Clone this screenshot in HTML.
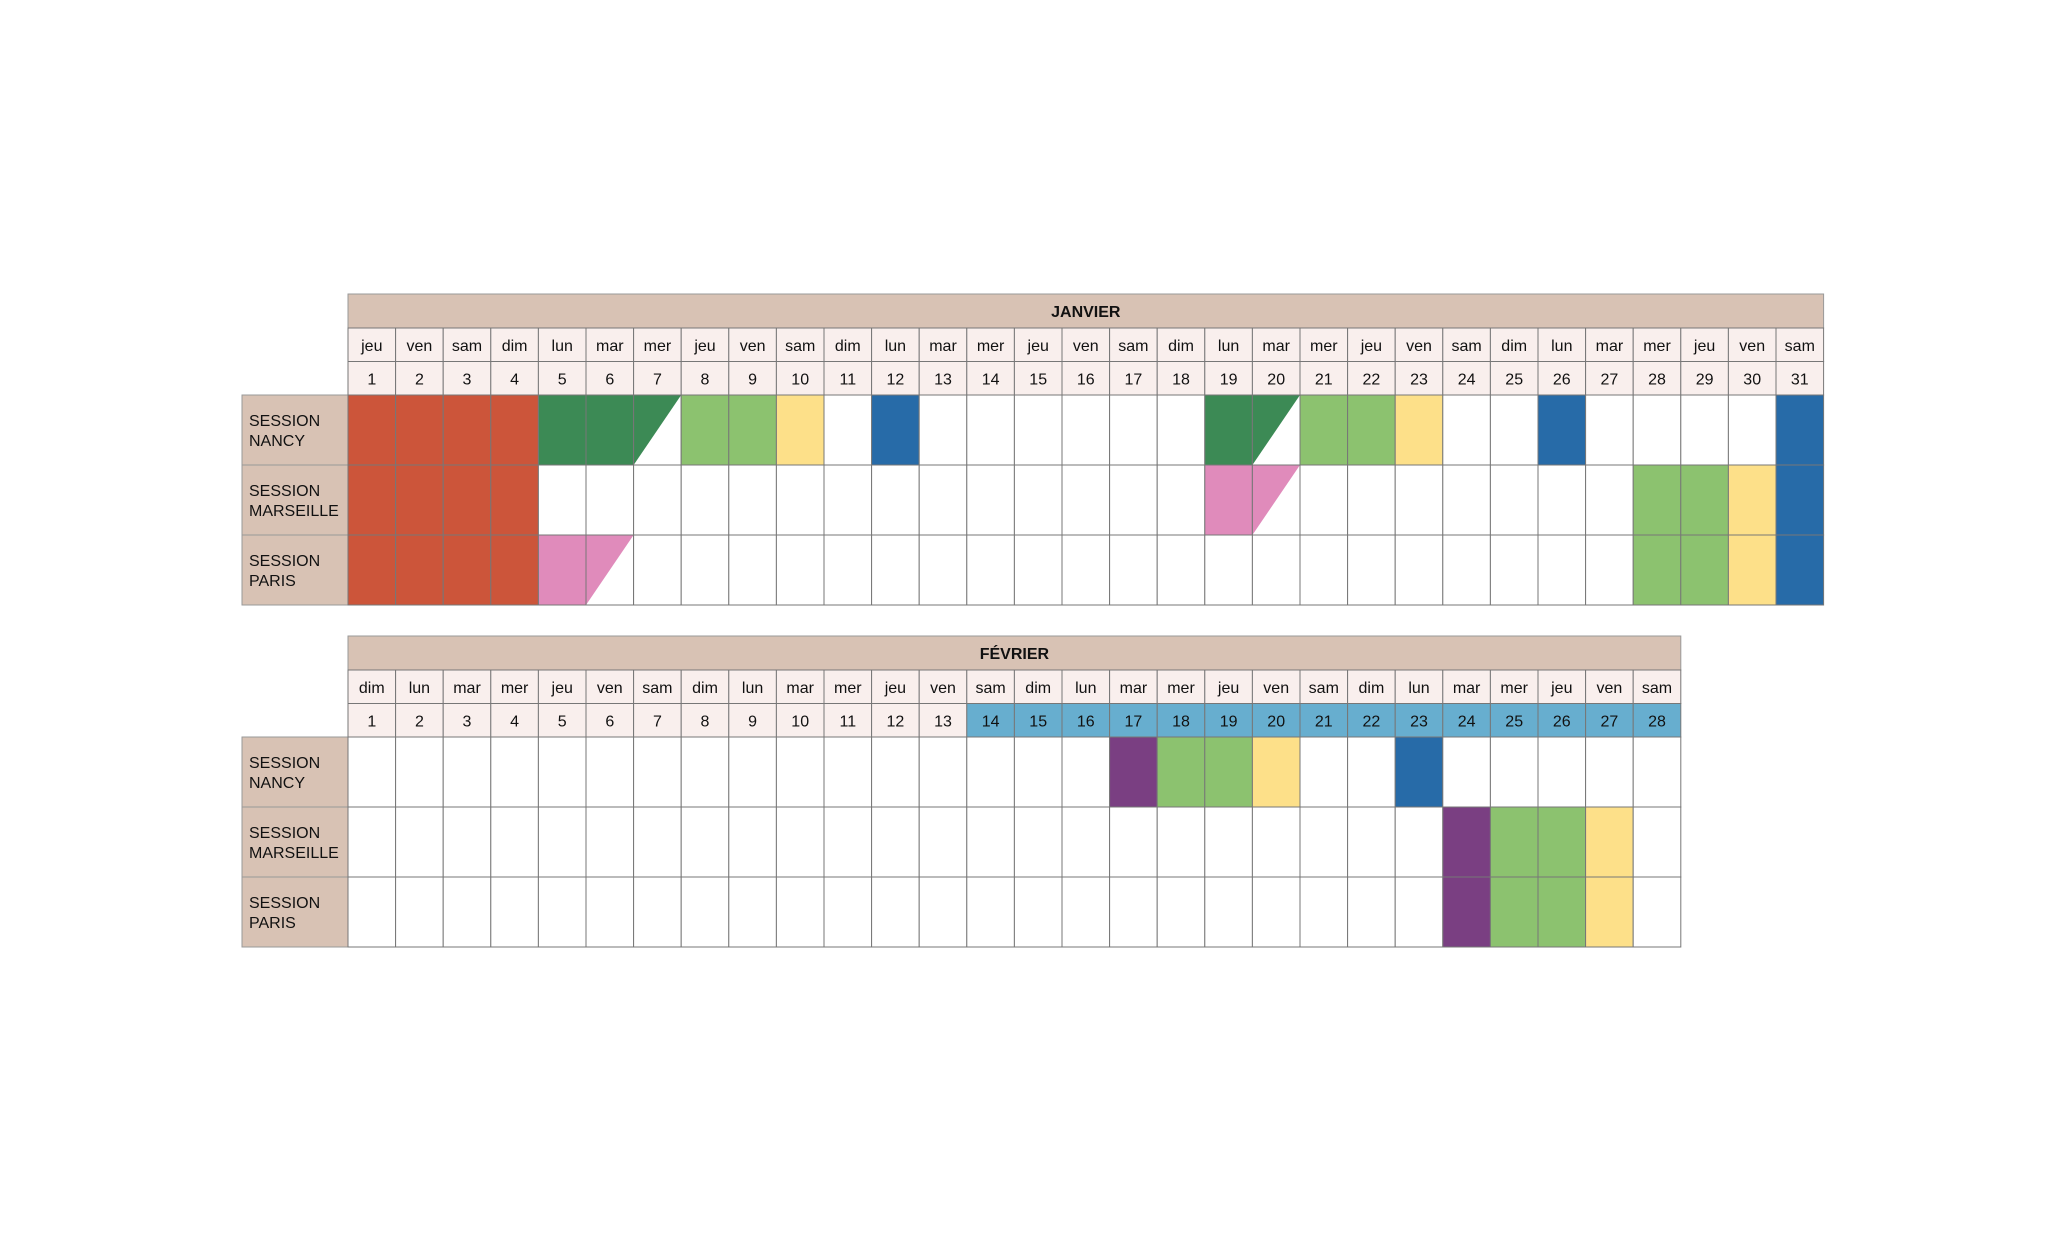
<!DOCTYPE html>
<html><head><meta charset="utf-8"><style>
html,body{margin:0;padding:0;background:#fff;width:2067px;height:1240px;overflow:hidden}
svg{display:block}
text{font-family:"Liberation Sans",sans-serif;fill:#111}
</style></head><body>
<svg id="s" width="2067" height="1240" viewBox="0 0 2067 1240" xmlns="http://www.w3.org/2000/svg"></svg>
<script>
var S=document.getElementById('s'),h='';
var X0=348,CW=47.6,LX=242;
var R='#cc553a',DG='#3c8a55',LG='#8cc26f',Y='#fde089',B='#276ba8',P='#e08bbb',V='#7a3f82';
function month(title,top,days,nd,fills,blueFrom){
  var W=nd*CW,yH=top,yD=top+34,yN=top+67.5,yS=top+101;
  h+='<rect x="'+X0+'" y="'+yH+'" width="'+W+'" height="34" fill="#d8c2b4" stroke="#999" stroke-width="1"/>';
  h+='<text x="'+(X0+W/2)+'" y="'+(yH+23)+'" font-size="16" font-weight="bold" text-anchor="middle">'+title+'</text>';
  for(var i=0;i<nd;i++){
    var x=X0+i*CW;
    h+='<rect x="'+x+'" y="'+yD+'" width="'+CW+'" height="33.5" fill="#f9efed" stroke="#777" stroke-width="1"/>';
    h+='<text x="'+(x+CW/2)+'" y="'+(yD+23)+'" font-size="16" text-anchor="middle">'+days[i%7]+'</text>';
    var bl=blueFrom&&i+1>=blueFrom;
    h+='<rect x="'+x+'" y="'+yN+'" width="'+CW+'" height="33.5" fill="'+(bl?'#67aecf':'#f9efed')+'" stroke="#777" stroke-width="1"/>';
    h+='<text x="'+(x+CW/2)+'" y="'+(yN+23)+'" font-size="16" text-anchor="middle">'+(i+1)+'</text>';
  }
  var labs=[['SESSION','NANCY'],['SESSION','MARSEILLE'],['SESSION','PARIS']];
  for(var r=0;r<3;r++){
    var y=yS+r*70;
    h+='<rect x="'+LX+'" y="'+y+'" width="'+(X0-LX)+'" height="70" fill="#d8c2b4" stroke="#999" stroke-width="1"/>';
    h+='<text x="'+(LX+7)+'" y="'+(y+31)+'" font-size="16">'+labs[r][0]+'</text>';
    h+='<text x="'+(LX+7)+'" y="'+(y+51)+'" font-size="16">'+labs[r][1]+'</text>';
    for(var i=0;i<nd;i++){
      var x=X0+i*CW,f=fills[r][i+1];
      h+='<rect x="'+x+'" y="'+y+'" width="'+CW+'" height="70" fill="'+(f&&f[0]!='t'?f:'#fff')+'" stroke="#777" stroke-width="1"/>';
      if(f&&f[0]=='t'){var c=f.slice(1);
        h+='<polygon points="'+x+','+y+' '+(x+CW)+','+y+' '+x+','+(y+70)+'" fill="'+c+'"/>';
        h+='<rect x="'+x+'" y="'+y+'" width="'+CW+'" height="70" fill="none" stroke="#777" stroke-width="1"/>';}
    }
  }
}
var jd=['jeu','ven','sam','dim','lun','mar','mer'];
var jf=[{1:R,2:R,3:R,4:R,5:DG,6:DG,7:'t'+DG,8:LG,9:LG,10:Y,12:B,19:DG,20:'t'+DG,21:LG,22:LG,23:Y,26:B,31:B},
{1:R,2:R,3:R,4:R,19:P,20:'t'+P,28:LG,29:LG,30:Y,31:B},
{1:R,2:R,3:R,4:R,5:P,6:'t'+P,28:LG,29:LG,30:Y,31:B}];
month('JANVIER',294,jd,31,jf,0);
var fd=['dim','lun','mar','mer','jeu','ven','sam'];
var ff=[{17:V,18:LG,19:LG,20:Y,23:B},{24:V,25:LG,26:LG,27:Y},{24:V,25:LG,26:LG,27:Y}];
month('FÉVRIER',636,fd,28,ff,14);
S.innerHTML=h;
</script>
</body></html>
